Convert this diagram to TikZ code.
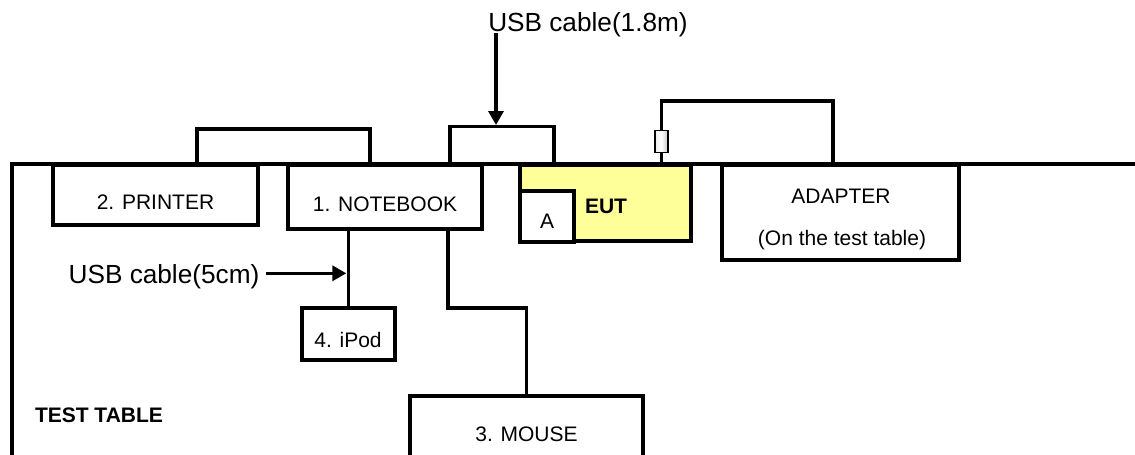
\documentclass[tikz,border=0pt]{standalone}
\usepackage{fontspec}
\setmainfont{Liberation Sans}
\usetikzlibrary{arrows.meta,calc}
\definecolor{eutyellow}{HTML}{FFFF99}
\begin{document}
\begin{tikzpicture}[x=1pt,y=-1pt,
  box/.style={draw,line width=3.5pt,fill=white,inner sep=0pt,outer sep=0pt,anchor=north west},
  lbl/.style={inner sep=0pt,outer sep=0pt,anchor=base,font=\fontsize{21}{25}\selectfont},
  boldlbl/.style={inner sep=0pt,outer sep=0pt,anchor=base west,font=\fontsize{21}{25}\selectfont\bfseries},
  biglbl/.style={inner sep=0pt,outer sep=0pt,anchor=base,font=\fontsize{26.2}{30}\selectfont},
  cable/.style={line width=3.5pt,line join=miter},
  arr/.style={line width=3.3pt,-{Triangle[length=14pt,width=15pt]}}]
\useasboundingbox (0,0) rectangle (1135,455);
\clip (0,0) rectangle (1135,455);
\fill[white] (0,0) rectangle (1135,455);

% boxes
\node[box,minimum width=205pt,minimum height=60pt] (printer) at (53,165) {};
\node[box,minimum width=194pt,minimum height=64pt] (notebook) at (288,165) {};
\node[box,fill=eutyellow,minimum width=171pt,minimum height=76pt] (eut) at (520,165) {};
\node[box,minimum width=54pt,minimum height=51pt] (abox) at (520,191) {};
\node[box,minimum width=237pt,minimum height=95pt] (adapter) at (722,165) {};
\node[box,minimum width=93pt,minimum height=52pt] (ipod) at (302,308) {};
\node[box,minimum width=233pt,minimum height=90pt] (mouse) at (410,396) {};
\node[draw,line width=1.6pt,left color=gray!15,right color=gray!45,middle color=white,
      inner sep=0pt,outer sep=0pt,minimum width=13pt,minimum height=22pt] (conn) at (661.5,141.5) {};

% test table edge
\draw[line width=4pt,line join=miter] (12,470) -- (12,164.3) -- (1150,164.3);

% cables
\draw[cable] ($(printer.north west)+(144,0)$) -- ++(0,-36) -| ($(notebook.north west)+(82,0)$);
\draw[cable] ($(notebook.north west)+(162,0)$) -- ++(0,-38.5) -| ($(eut.north west)+(34,0)$);
\draw[cable] (conn.south |- eut.north) -- (conn.south);
\draw[cable] (conn.north) -- ++(0,-29.3) -| ($(adapter.north west)+(111,0)$);
\draw[cable] (notebook.south -| ipod.north) -- (ipod.north);
\draw[cable] ($(notebook.south west)+(160,0)$) -- ++(0,79) -| (mouse.north);

% labels
\node[lbl] (tprinter) at (155.5,209) {2. PRINTER};
\node[lbl] (tnotebook) at (385,211) {1. NOTEBOOK};
\node[boldlbl] (teut) at (585,213) {EUT};
\node[lbl] (ta) at (547,228) {A};
\node[lbl] (tadapter) at (841,203) {ADAPTER};
\node[lbl] (tadapter2) at (842,245) {(On the test table)};
\node[lbl] (tipod) at (348,347) {4. iPod};
\node[lbl] (tmouse) at (526.5,441) {3. MOUSE};
\node[boldlbl] (ttable) at (35,422) {TEST TABLE};
\node[biglbl] (tusb5) at (164,283) {USB cable(5cm)};
\node[biglbl] (tusb18) at (588,31) {USB cable(1.8m)};

% arrows
\coordinate (tip18) at (496,125);
\draw[arr] ($(tip18 |- tusb18.base)+(0,2)$) -- (tip18);
\coordinate (tip5) at (346.3,273.3);
\draw[arr] ($(tip5 -| tusb5.base east)+(7,0)$) -- (tip5);
\end{tikzpicture}
\end{document}
